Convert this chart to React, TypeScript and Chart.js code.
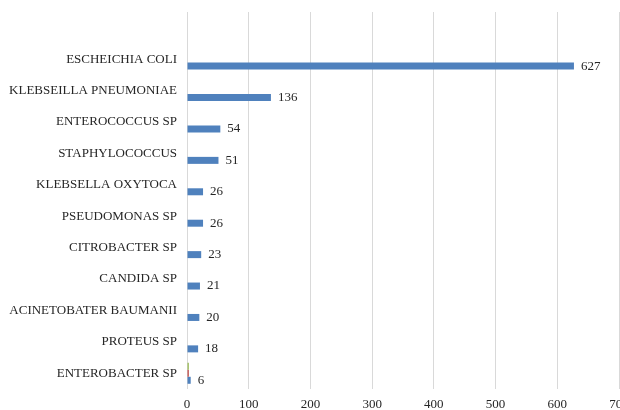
import React, { useEffect, useRef } from 'react';
import { Chart, registerables, ChartConfiguration, Plugin } from 'chart.js';

Chart.register(...registerables);

// Top row is an empty category in the source chart
const categories = [
  '',
  'ESCHEICHIA COLI',
  'KLEBSEILLA PNEUMONIAE',
  'ENTEROCOCCUS SP',
  'STAPHYLOCOCCUS',
  'KLEBSELLA OXYTOCA',
  'PSEUDOMONAS SP',
  'CITROBACTER SP',
  'CANDIDA SP',
  'ACINETOBATER BAUMANII',
  'PROTEUS SP',
  'ENTEROBACTER SP',
];
const counts = [null, 627, 136, 54, 51, 26, 26, 23, 21, 20, 18, 6];
const seriesRed = [null, null, null, null, null, null, null, null, null, null, null, 3];
const seriesGreen = [null, null, null, null, null, null, null, null, null, null, null, 3];
const xTicks = [0, 100, 200, 300, 400, 500, 600, 700];

const FONT = '"Liberation Serif", "Times New Roman", serif';
const TEXT = '#262626';

// Draws the count to the right of each blue bar
const valueLabels: Plugin<'bar'> = {
  id: 'valueLabels',
  afterDatasetsDraw(chart) {
    const ctx = chart.ctx;
    const meta = chart.getDatasetMeta(2);
    ctx.save();
    ctx.font = `13px ${FONT}`;
    ctx.fillStyle = TEXT;
    ctx.textAlign = 'left';
    ctx.textBaseline = 'middle';
    meta.data.forEach((bar: any, i) => {
      const v = counts[i];
      if (v == null) return;
      ctx.fillText(String(v), bar.x + 7, bar.y);
    });
    ctx.restore();
  },
};

const BarChart: React.FC = () => {
  const canvasRef = useRef<HTMLCanvasElement | null>(null);
  const chartRef = useRef<Chart | null>(null);

  useEffect(() => {
    const canvas = canvasRef.current;
    if (!canvas) return;
    if (chartRef.current) chartRef.current.destroy();

    const config: ChartConfiguration<'bar'> = {
      type: 'bar',
      data: {
        labels: categories,
        datasets: [
          { label: 'C', data: seriesGreen, backgroundColor: '#9BBB59' },
          { label: 'B', data: seriesRed, backgroundColor: '#C0504D' },
          { label: 'Count', data: counts, backgroundColor: '#4F81BD' },
        ],
      },
      options: {
        indexAxis: 'y',
        responsive: true,
        maintainAspectRatio: false,
        animation: false,
        categoryPercentage: 0.668,
        barPercentage: 1,
        layout: { padding: { top: 12, right: 1, left: 0, bottom: 0 } },
        plugins: {
          legend: { display: false },
          tooltip: { enabled: false },
        },
        scales: {
          x: {
            min: 0,
            max: 700,
            afterBuildTicks: (scale) => {
              scale.ticks = xTicks.map((value) => ({ value }));
            },
            afterFit: (scale: any) => {
              scale.height = 21;
              scale.paddingLeft = 0;
              scale.paddingRight = 0;
              scale.paddingTop = 0;
              scale.paddingBottom = 0;
            },
            grid: { color: '#d9d9d9', lineWidth: 1, drawTicks: false },
            border: { display: false },
            ticks: {
              color: TEXT,
              font: { family: FONT, size: 13 },
              padding: 8,
              maxRotation: 0,
            },
          },
          y: {
            afterFit: (scale: any) => {
              scale.width = 187;
              scale.paddingTop = 0;
              scale.paddingBottom = 0;
            },
            grid: { display: false, drawTicks: false },
            border: { display: false },
            ticks: {
              color: TEXT,
              font: { family: FONT, size: 13 },
              padding: 10,
              autoSkip: false,
            },
          },
        },
      },
      plugins: [valueLabels],
    };

    chartRef.current = new Chart(canvas, config);

    return () => {
      if (chartRef.current) {
        chartRef.current.destroy();
        chartRef.current = null;
      }
    };
  }, []);

  return (
    <div style={{ position: 'fixed', left: 0, top: 0, width: 620, height: 410, background: '#fff' }}>
      <canvas ref={canvasRef} role="img" aria-label="Horizontal bar chart of isolated organisms" />
    </div>
  );
};

export default function App() {
  return <BarChart />;
}
